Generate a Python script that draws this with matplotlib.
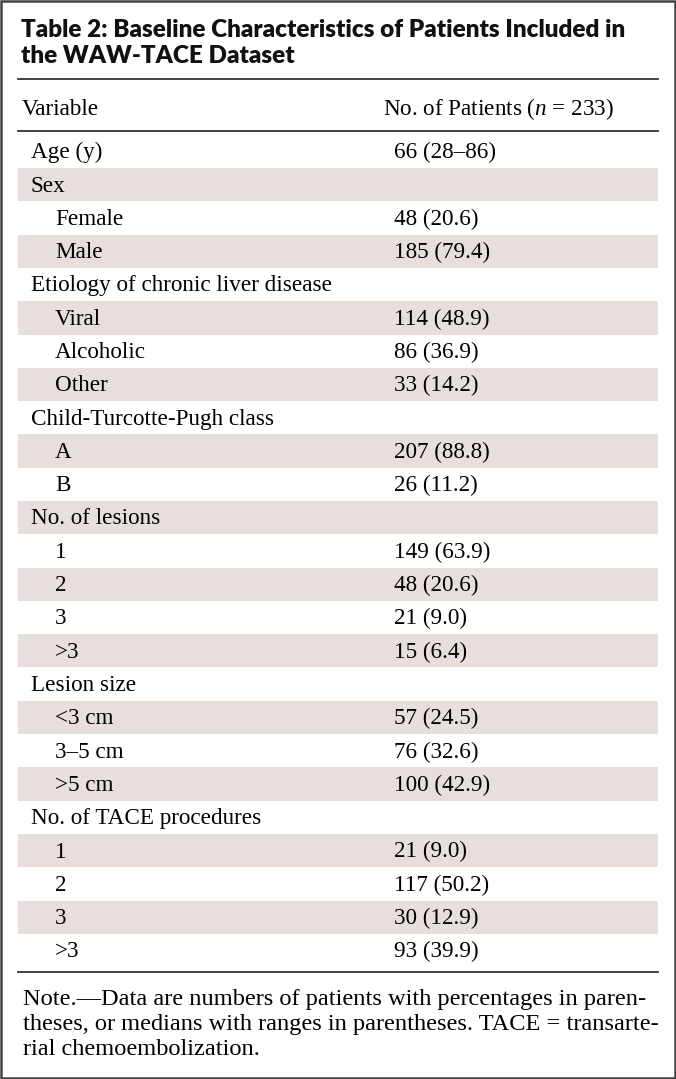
import matplotlib.pyplot as plt
from matplotlib.patches import Rectangle

plt.rcParams['mathtext.fontset'] = 'custom'
plt.rcParams['mathtext.rm'] = 'Liberation Serif'
plt.rcParams['mathtext.it'] = 'Liberation Serif:italic'

# Datos de la tabla
titulo = ["Table 2: Baseline Characteristics of Patients Included in",
          "the WAW-TACE Dataset"]
encabezado = ["Variable", "No. of Patients ($\\it{n}$ = 233)"]
variables = ["Age (y)", "Sex", "Female", "Male",
             "Etiology of chronic liver disease", "Viral", "Alcoholic", "Other",
             "Child-Turcotte-Pugh class", "A", "B",
             "No. of lesions", "1", "2", "3", ">3",
             "Lesion size", "<3 cm", "3\u20135 cm", ">5 cm",
             "No. of TACE procedures", "1", "2", "3", ">3"]
valores = ["66 (28\u201386)", "", "48 (20.6)", "185 (79.4)",
           "", "114 (48.9)", "86 (36.9)", "33 (14.2)",
           "", "207 (88.8)", "26 (11.2)",
           "", "149 (63.9)", "48 (20.6)", "21 (9.0)", "15 (6.4)",
           "", "57 (24.5)", "76 (32.6)", "100 (42.9)",
           "", "21 (9.0)", "117 (50.2)", "30 (12.9)", "93 (39.9)"]
sangria = [0, 0, 1, 1, 0, 1, 1, 1, 0, 1, 1, 0, 1, 1, 1, 1,
           0, 1, 1, 1, 0, 1, 1, 1, 1]
nota = ["Note.\u2014Data are numbers of patients with percentages in paren-",
        "theses, or medians with ranges in parentheses. TACE = transarte-",
        "rial chemoembolization."]

W, H = 676, 1079
fig = plt.figure(figsize=(W / 100, H / 100), dpi=100)
ax = fig.add_axes([0, 0, 1, 1])
ax.set_xlim(0, W)
ax.set_ylim(H, 0)
ax.axis('off')

serif = 'Liberation Serif'
fs = 16.7
sombra = '#e6dfdc'
x0, x1 = 18, 658
xtit, xcol1, xsub, xcol2h, xcol2 = 21, 31, 55, 383, 394

# Marco exterior
ax.add_patch(Rectangle((1, 1), W - 2, H - 2, fill=False,
                       edgecolor='#444444', linewidth=1.8))

# Titulo
for i, linea in enumerate(titulo):
    ax.text(xtit, 36.7 + i * 26.6, linea, fontsize=17.5, fontweight='heavy',
            family='Lato', va='baseline', ha='left', color='#111111')

ax.plot([x0, x1], [79, 79], color='#333333', lw=1.3)
ax.text(22, 115, encabezado[0], fontsize=fs, family=serif, va='baseline')
ax.text(xcol2h, 115, encabezado[1], fontsize=fs, family=serif, va='baseline')
ax.plot([x0, x1], [131, 131], color='#333333', lw=1.3)

# Filas
y_ini, paso = 134.7, 33.3
for i, (var, val, s) in enumerate(zip(variables, valores, sangria)):
    top = y_ini + i * paso
    if i % 2 == 1:
        ax.add_patch(Rectangle((x0, top), x1 - x0, paso,
                               facecolor=sombra, edgecolor='none'))
    ax.text(xsub if s else xcol1, top + 23.5, var, fontsize=fs, family=serif,
            va='baseline')
    if val:
        ax.text(xcol2, top + 23.5, val, fontsize=fs, family=serif, va='baseline')

y_fin = y_ini + len(variables) * paso + 5
ax.plot([x0, x1], [y_fin, y_fin], color='#333333', lw=1.3)

# Nota
for i, linea in enumerate(nota):
    ax.text(23, y_fin + 33 + i * 25, linea, fontsize=17.6, family=serif,
            va='baseline')

fig.savefig('out.png', dpi=100)
